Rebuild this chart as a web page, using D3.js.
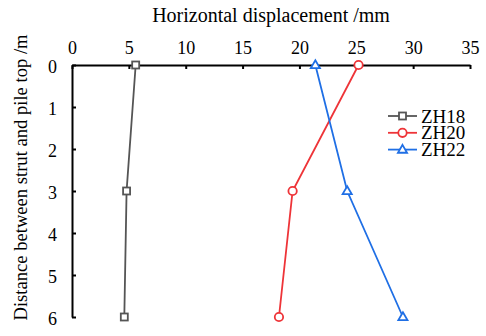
<!DOCTYPE html>
<html>
<head>
<meta charset="utf-8">
<script src="https://cdn.jsdelivr.net/npm/d3@7"></script>
<style>
  body { margin: 0; background: #fff; }
</style>
</head>
<body>
<svg id="chart" width="486" height="336" font-family="'Liberation Serif', 'Times New Roman', serif"></svg>
<script>
const depths = [0, 3, 6]
const zh18 = [5.6, 4.8, 4.6]
const zh20 = [25.2, 19.4, 18.2]
const zh22 = [21.4, 24.2, 29.1]
const xTicks = [0, 5, 10, 15, 20, 25, 30, 35]
const yTicks = [0, 1, 2, 3, 4, 5, 6]

const FONT = "'Liberation Serif', 'Times New Roman', serif"

const series = [
  { name: 'ZH18', values: zh18, color: '#555555', marker: 'square' },
  { name: 'ZH20', values: zh20, color: '#ee3438', marker: 'circle' },
  { name: 'ZH22', values: zh22, color: '#1f6fe5', marker: 'triangle' }
]

const svg = d3.select('#chart')
const x = d3.scaleLinear().domain([0, 35]).range([72, 470])
const y = d3.scaleLinear().domain([0, 6]).range([65, 317])

// top axis, ticks pointing inward
const xAxis = svg.append('g')
  .attr('transform', `translate(0,${y(0)})`)
  .call(d3.axisTop(x).tickValues(xTicks).tickFormat(d3.format('d'))
    .tickSizeInner(-4).tickSizeOuter(0).tickPadding(11))
xAxis.attr('font-family', FONT).attr('font-size', 18)
xAxis.select('.domain').attr('stroke', '#000').attr('stroke-width', 2)
xAxis.selectAll('.tick line').attr('stroke', '#000').attr('stroke-width', 2)

const yAxis = svg.append('g')
  .attr('transform', `translate(${x(0)},0)`)
  .call(d3.axisLeft(y).tickValues(yTicks).tickFormat(d3.format('d'))
    .tickSizeInner(-4).tickSizeOuter(0).tickPadding(15))
yAxis.attr('font-family', FONT).attr('font-size', 18)
yAxis.select('.domain').attr('stroke', '#000').attr('stroke-width', 2)
yAxis.selectAll('.tick line').attr('stroke', '#000').attr('stroke-width', 2)
yAxis.selectAll('.tick text').attr('dy', '0.4em')

svg.append('text')
  .attr('x', 271)
  .attr('y', 22)
  .attr('text-anchor', 'middle')
  .attr('font-family', FONT)
  .attr('font-size', 20)
  .text('Horizontal displacement /mm')

svg.append('text')
  .attr('transform', `translate(27,177.5) rotate(-90)`)
  .attr('text-anchor', 'middle')
  .attr('font-family', FONT)
  .attr('font-size', 18.6)
  .text('Distance between strut and pile top /m')

function drawMarker(g, type, color, cx, cy) {
  if (type === 'square') {
    g.append('rect').attr('x', cx - 3.5).attr('y', cy - 3.5).attr('width', 7).attr('height', 7)
      .attr('fill', '#fff').attr('stroke', color).attr('stroke-width', 1.8)
  } else if (type === 'circle') {
    g.append('circle').attr('cx', cx).attr('cy', cy).attr('r', 4.2)
      .attr('fill', '#fff').attr('stroke', color).attr('stroke-width', 1.8)
  } else {
    const tri = d3.symbol().type(d3.symbolTriangle).size(36)
    g.append('path').attr('d', tri()).attr('transform', `translate(${cx},${cy + 0.5})`)
      .attr('fill', '#fff').attr('stroke', color).attr('stroke-width', 1.8)
  }
}

const line = d3.line()
  .x(d => x(d[0]))
  .y(d => y(d[1]))

series.forEach(s => {
  const pts = s.values.map((v, i) => [v, depths[i]])
  svg.append('path')
    .datum(pts)
    .attr('d', line)
    .attr('fill', 'none')
    .attr('stroke', s.color)
    .attr('stroke-width', 1.8)
  const g = svg.append('g')
  pts.forEach(p => drawMarker(g, s.marker, s.color, x(p[0]), y(p[1])))
})

// legend
const legend = svg.append('g')
series.forEach((s, i) => {
  const ly = 116 + i * 16.8
  legend.append('line')
    .attr('x1', 388).attr('x2', 417).attr('y1', ly).attr('y2', ly)
    .attr('stroke', s.color).attr('stroke-width', 1.8)
  drawMarker(legend, s.marker, s.color, 402.5, ly)
  legend.append('text')
    .attr('x', 421)
    .attr('y', ly + 6.5)
    .attr('font-family', FONT)
    .attr('font-size', 19)
    .text(s.name)
})
</script>
</body>
</html>
